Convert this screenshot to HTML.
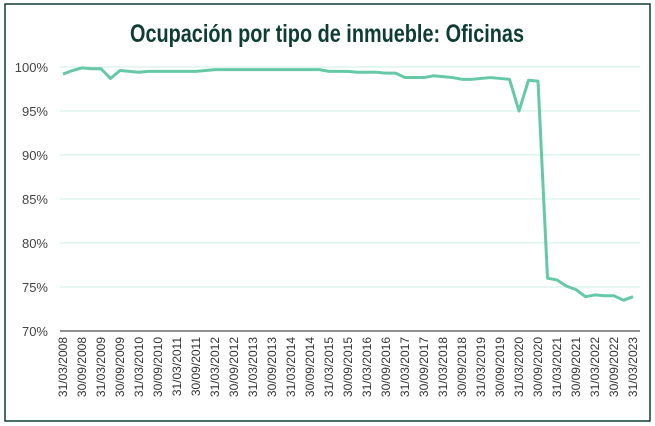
<!DOCTYPE html>
<html><head><meta charset="utf-8"><style>
body{margin:0;background:#fff;}
svg{display:block;font-family:"Liberation Sans",sans-serif;}
</style></head><body>
<svg id="chart" width="655" height="426" viewBox="0 0 655 426">
<rect x="5" y="4" width="645" height="417" fill="#fff" stroke="#0e3d33" stroke-width="1.5"/>
<text x="327" y="42" text-anchor="middle" font-family="'Liberation Sans Narrow','Liberation Sans',sans-serif" font-weight="bold" font-size="25" fill="#0e3d33" textLength="394" lengthAdjust="spacingAndGlyphs">Ocupación por tipo de inmueble: Oficinas</text>
<g id="grid"></g><g id="yl"></g><g id="xl"></g>
<line x1="60" y1="331" x2="640" y2="331" stroke="#222" stroke-width="1"/>
<polyline id="line" fill="none" stroke="#66c9a6" stroke-width="3" stroke-linejoin="round"/>
</svg>
<script>
const values=[99.2,99.6,99.9,99.8,99.8,98.7,99.6,99.5,99.4,99.5,99.5,99.5,99.5,99.5,99.5,99.6,99.7,99.7,99.7,99.7,99.7,99.7,99.7,99.7,99.7,99.7,99.7,99.7,99.5,99.5,99.5,99.4,99.4,99.4,99.3,99.3,98.8,98.8,98.8,99.0,98.9,98.8,98.6,98.6,98.7,98.8,98.7,98.6,95.0,98.5,98.4,76.0,75.8,75.1,74.7,73.9,74.1,74.0,74.0,73.5,73.9];
const yTicks=[70,75,80,85,90,95,100];
const xLabels=[];
for(let y=2008;y<=2023;y++){xLabels.push("31/03/"+y);if(y<2023)xLabels.push("30/09/"+y);}
const NS="http://www.w3.org/2000/svg";
const x=i=>63+i*9.5;
const y=v=>331-(v-70)*8.8;
const g=document.getElementById('grid'),yl=document.getElementById('yl'),xl=document.getElementById('xl');
yTicks.forEach(t=>{
 if(t>70){const l=document.createElementNS(NS,'line');
 l.setAttribute('x1',60);l.setAttribute('x2',640);l.setAttribute('y1',y(t));l.setAttribute('y2',y(t));
 l.setAttribute('stroke','#cdeee4');l.setAttribute('stroke-width','1');
 
 
 g.appendChild(l);}
 const tx=document.createElementNS(NS,'text');
 tx.setAttribute('x',48);tx.setAttribute('y',y(t)+5);tx.setAttribute('text-anchor','end');
 tx.setAttribute('font-size','13');tx.setAttribute('fill','#444');
 tx.textContent=t+'%';
 
 
 yl.appendChild(tx);
});
xLabels.forEach((s,i)=>{
 const tx=document.createElementNS(NS,'text');
 const px=x(i*2)+4;
 tx.setAttribute('transform','translate('+px+',337) rotate(-90)');
 tx.setAttribute('text-anchor','end');tx.setAttribute('font-size','12');tx.setAttribute('fill','#333');
 tx.textContent=s;
 
 
 xl.appendChild(tx);
});
document.getElementById('line').setAttribute('points',values.map((v,i)=>x(i)+','+y(v)).join(' '));
</script>
</body></html>
